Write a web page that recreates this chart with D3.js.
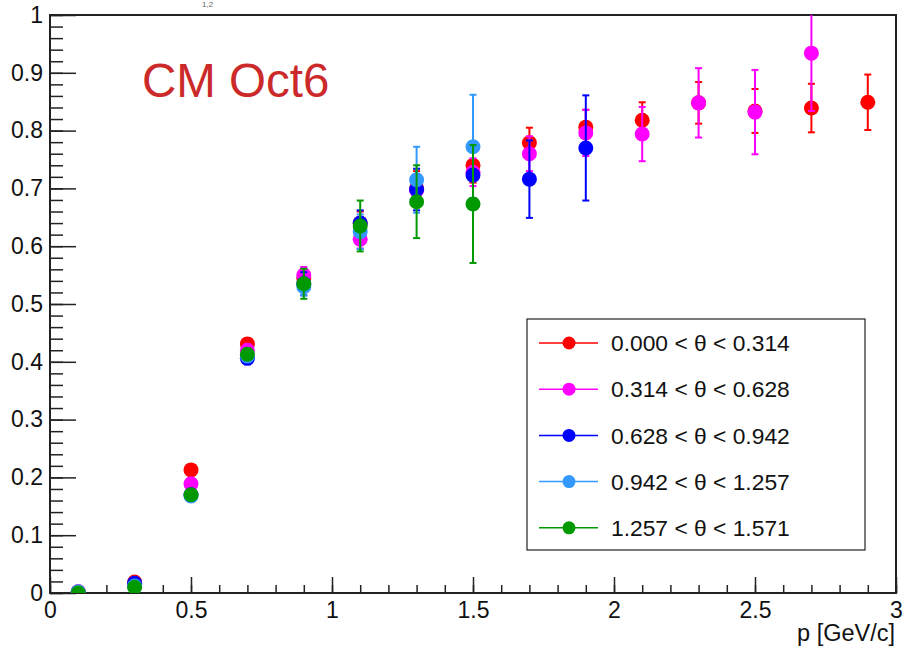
<!DOCTYPE html>
<html>
<head>
<meta charset="utf-8">
<script src="https://cdn.jsdelivr.net/npm/d3@7"></script>
<style>
  body { margin: 0; background: white; }
  svg { font-family: "Liberation Sans", Arial, sans-serif; display: block; }
</style>
</head>
<body>
<div id="chart"></div>
<script>
// Momentum bin centres [GeV/c]
const pBins = [0.1, 0.3, 0.5, 0.7, 0.9, 1.1, 1.3, 1.5, 1.7, 1.9, 2.1, 2.3, 2.5, 2.7, 2.9];

// Series (theta bins): values and errors, null = no point
const labels = [
  "0.000 < θ < 0.314",
  "0.314 < θ < 0.628",
  "0.628 < θ < 0.942",
  "0.942 < θ < 1.257",
  "1.257 < θ < 1.571"
];
const colors = ["#ff0000", "#ff00ff", "#0000ff", "#3399ff", "#009900"];

const vals0 = [0.002, 0.019, 0.213, 0.431, 0.545, 0.640, 0.700, 0.740, 0.779, 0.806, 0.818, 0.848, 0.834, 0.839, 0.849];
const errs0 = [0.002, 0.004, 0.008, 0.010, 0.015, 0.020, 0.030, 0.030, 0.026, 0.030, 0.031, 0.036, 0.038, 0.042, 0.048];

const vals1 = [0.002, 0.015, 0.189, 0.420, 0.550, 0.612, 0.697, 0.728, 0.760, 0.796, 0.794, 0.848, 0.832, 0.934, null];
const errs1 = [0.002, 0.004, 0.008, 0.010, 0.014, 0.016, 0.025, 0.024, 0.030, 0.040, 0.047, 0.060, 0.073, 0.100, null];

const vals2 = [0.001, 0.017, 0.170, 0.406, 0.535, 0.640, 0.698, 0.723, 0.716, 0.770, null, null, null, null, null];
const errs2 = [0.002, 0.004, 0.008, 0.010, 0.020, 0.022, 0.036, 0.040, 0.067, 0.091, null, null, null, null, null];

const vals3 = [0.002, 0.012, 0.168, 0.410, 0.530, 0.625, 0.715, 0.772, null, null, null, null, null, null, null];
const errs3 = [0.002, 0.004, 0.008, 0.010, 0.015, 0.030, 0.057, 0.090, null, null, null, null, null, null, null];

const vals4 = [0.000, 0.010, 0.170, 0.413, 0.535, 0.635, 0.677, 0.673, null, null, null, null, null, null, null];
const errs4 = [0.002, 0.004, 0.008, 0.010, 0.026, 0.044, 0.063, 0.102, null, null, null, null, null, null, null];

const allVals = [vals0, vals1, vals2, vals3, vals4];
const allErrs = [errs0, errs1, errs2, errs3, errs4];

// Axis ticks
const xMajor = [0, 0.5, 1, 1.5, 2, 2.5, 3];
const xMinor = d3.range(0, 31).map(i => i / 10);
const yMajor = [0, 0.1, 0.2, 0.3, 0.4, 0.5, 0.6, 0.7, 0.8, 0.9, 1];
const yMinor = d3.range(0, 51).map(i => i / 50);

const W = 904, H = 648;
const frame = { left: 50, top: 15, right: 896, bottom: 593 };

const svg = d3.select("#chart").append("svg")
  .attr("width", W).attr("height", H);
svg.append("rect").attr("width", W).attr("height", H).attr("fill", "white");

const x = d3.scaleLinear().domain([0, 3]).range([frame.left, frame.right]);
const y = d3.scaleLinear().domain([0, 1]).range([frame.bottom, frame.top]);

// remnant of the title at the very top
svg.append("text")
  .attr("x", 202).attr("y", 7)
  .attr("font-size", 8)
  .attr("fill", "#666")
  .text("1,2");

// Axes (ticks point inward, ROOT style)
const xAxisG = svg.append("g").attr("transform", `translate(0,${frame.bottom})`);
xAxisG.call(d3.axisBottom(x).tickValues(xMinor).tickSize(-8).tickFormat(""));
xAxisG.append("g").call(d3.axisBottom(x).tickValues(xMajor).tickSize(-16).tickPadding(9)
  .tickFormat(d => String(d)));

const yAxisG = svg.append("g").attr("transform", `translate(${frame.left},0)`);
yAxisG.call(d3.axisLeft(y).tickValues(yMinor).tickSize(-13).tickFormat(""));
yAxisG.append("g").call(d3.axisLeft(y).tickValues(yMajor).tickSize(-26).tickPadding(7)
  .tickFormat(d => String(d)));

svg.selectAll(".domain").remove();
svg.selectAll(".tick line").attr("stroke", "#222").attr("stroke-width", 1.5);
svg.selectAll(".tick text").attr("font-size", 23).attr("fill", "#111")
  .attr("font-family", "'Liberation Sans', Arial, sans-serif");

// Frame
svg.append("rect")
  .attr("x", frame.left).attr("y", frame.top)
  .attr("width", frame.right - frame.left)
  .attr("height", frame.bottom - frame.top)
  .attr("fill", "none").attr("stroke", "#222").attr("stroke-width", 2);

// Axis title
svg.append("text")
  .attr("x", 895).attr("y", 641)
  .attr("text-anchor", "end")
  .attr("font-size", 23.5)
  .attr("fill", "#111")
  .text("p [GeV/c]");

// Label
svg.append("text")
  .attr("x", 142).attr("y", 97)
  .attr("font-size", 47.5)
  .attr("fill", "#cc2a2a")
  .text("CM Oct6");

// Data: each series draws error bars then markers
const plot = svg.append("g");
svg.append("clipPath").attr("id", "frameClip").append("rect")
  .attr("x", frame.left).attr("y", frame.top)
  .attr("width", frame.right - frame.left).attr("height", frame.bottom - frame.top);
plot.attr("clip-path", "url(#frameClip)");

allVals.forEach((vals, s) => {
  const pts = pBins.map((p, i) => ({ p, v: vals[i], e: allErrs[s][i] }))
    .filter(d => d.v !== null);
  const g = plot.append("g");
  const cap = 3.5;

  pts.forEach(d => {
    g.append("line")
      .attr("x1", x(d.p)).attr("x2", x(d.p))
      .attr("y1", y(d.v - d.e)).attr("y2", y(d.v + d.e))
      .attr("stroke", colors[s]).attr("stroke-width", 2);
    [d.v - d.e, d.v + d.e].forEach(t => {
      g.append("line")
        .attr("x1", x(d.p) - cap).attr("x2", x(d.p) + cap)
        .attr("y1", y(t)).attr("y2", y(t))
        .attr("stroke", colors[s]).attr("stroke-width", 2);
    });
  });

  g.selectAll("circle")
    .data(pts)
    .enter()
    .append("circle")
    .attr("cx", d => x(d.p))
    .attr("cy", d => y(d.v))
    .attr("r", 7.5)
    .attr("fill", colors[s]);
});

// Legend
const legend = svg.append("g");
legend.append("rect")
  .attr("x", 527).attr("y", 319)
  .attr("width", 338).attr("height", 231)
  .attr("fill", "white").attr("stroke", "#222").attr("stroke-width", 1.2);

labels.forEach((lab, i) => {
  const cy = 343 + i * 46.2;
  legend.append("line")
    .attr("x1", 539).attr("x2", 598)
    .attr("y1", cy).attr("y2", cy)
    .attr("stroke", colors[i]).attr("stroke-width", 1.5);
  legend.append("circle")
    .attr("cx", 569).attr("cy", cy).attr("r", 6.5)
    .attr("fill", colors[i]);
  legend.append("text")
    .attr("x", 611).attr("y", cy)
    .attr("dy", "0.36em")
    .attr("font-size", 22.8)
    .attr("fill", "#111")
    .text(lab);
});
</script>
</body>
</html>
